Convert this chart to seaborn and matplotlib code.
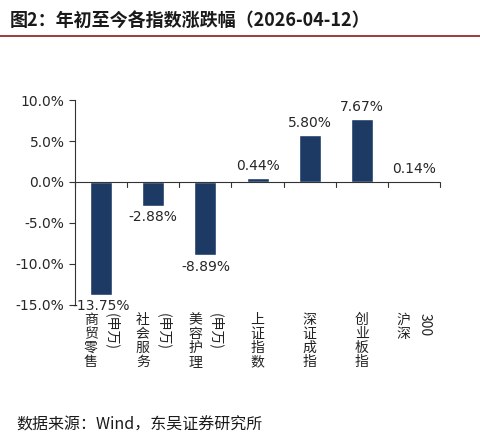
import matplotlib
matplotlib.use("Agg")
import matplotlib.pyplot as plt
import seaborn as sns
import pandas as pd

categories = ["商贸零售(申万)", "社会服务(申万)", "美容护理(申万)", "上证指数", "深证成指", "创业板指", "沪深300"]
label_main = ["商贸零售", "社会服务", "美容护理", "上证指数", "深证成指", "创业板指", "沪深"]
label_side = ["(申万)", "(申万)", "(申万)", "", "", "", "300"]
values = [-13.75, -2.88, -8.89, 0.44, 5.80, 7.67, 0.14]
yticks = [-15, -10, -5, 0, 5, 10]

sns.set_style("white")
plt.rcParams['font.family'] = ['Noto Sans CJK SC', 'DejaVu Sans']

fig = plt.figure(figsize=(4.81, 4.43), dpi=100)
ax = fig.add_axes([0.156, 0.312, 0.759, 0.462])
df = pd.DataFrame({"cat": categories, "val": values})
sns.barplot(data=df, x="cat", y="val", color="#1c3a63", width=0.42, ax=ax, saturation=1)
ax.set_ylim(-15, 10)
ax.set_yticks(yticks)
ax.set_yticklabels([f"{v:.1f}%" for v in yticks], fontsize=10, family="DejaVu Sans")
ax.set_xlabel(""); ax.set_ylabel("")
ax.set_xticks([])
for s in ["top", "right", "bottom"]:
    ax.spines[s].set_visible(False)
ax.spines["left"].set_color("#333333")
ax.tick_params(axis="y", length=4, color="#333333", left=True)
ax.axhline(0, color="#333333", lw=0.8)
for i in range(len(categories) + 1):
    ax.plot([i - 0.5, i - 0.5], [0, -0.6], color="#333333", lw=0.8, clip_on=False)
ax.set_xlim(-0.5, len(categories) - 0.5)

for i, v in enumerate(values):
    if v >= 0:
        ax.text(i, v + 0.6, f"{v:.2f}%", ha="center", va="bottom", fontsize=10, family="DejaVu Sans")
    else:
        ax.text(i, v - 0.6, f"{v:.2f}%", ha="center", va="top", fontsize=10, family="DejaVu Sans")

trans = ax.get_xaxis_transform()
for i, (m, s) in enumerate(zip(label_main, label_side)):
    xm = i - 0.2 if s else i
    ax.text(xm, -0.04, "\n".join(m), transform=trans, ha="center", va="top", fontsize=10, linespacing=1.0, color="#222222")
    if s:
        ax.text(i + 0.2, -0.04, s, transform=trans, ha="center", va="top", rotation=270, fontsize=10, color="#222222")

fig.text(0.02, 0.955, "图2：年初至今各指数涨跌幅（2026-04-12）", fontsize=13, fontweight="bold", va="center", color="#1a1a1a")
fig.add_artist(plt.Line2D([0.0, 1.0], [0.918, 0.918], color="#8b1a1a", lw=1.2))
fig.text(0.035, 0.04, "数据来源：Wind，东吴证券研究所", fontsize=11.5, va="center", color="#1a1a1a")
fig.savefig("out.png", dpi=100)
